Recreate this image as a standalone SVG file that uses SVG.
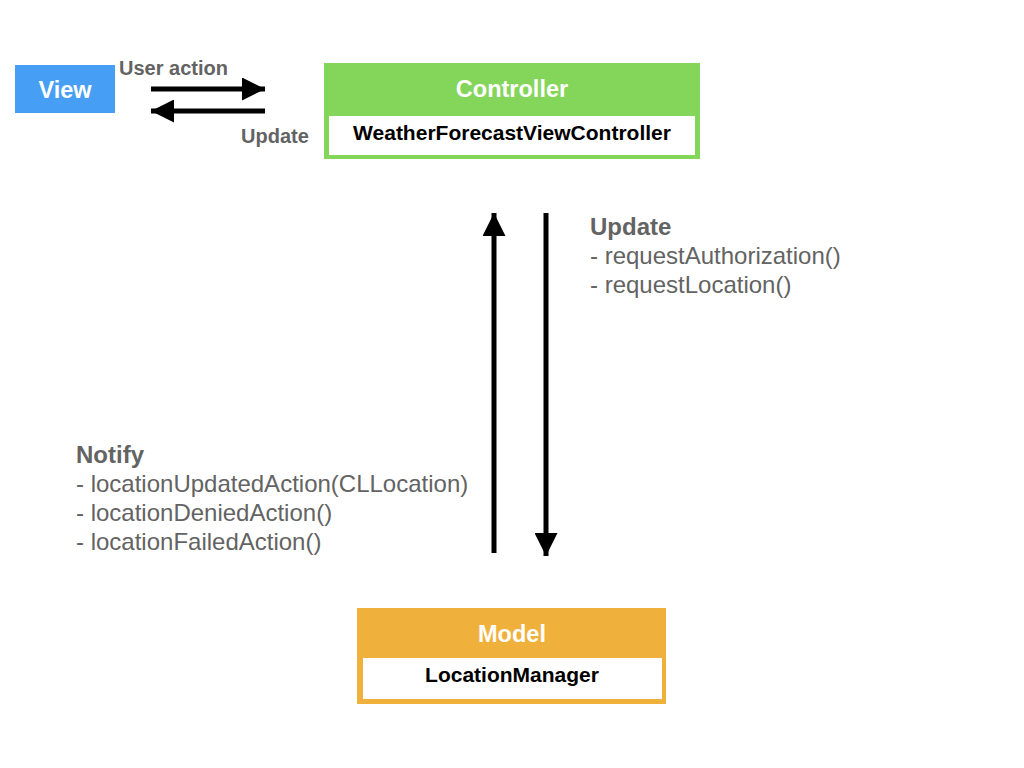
<svg xmlns="http://www.w3.org/2000/svg" width="1024" height="768" viewBox="0 0 1024 768">
<style>
text{font-family:"Liberation Sans",Arial,sans-serif}
.title{fill:#fff;font-weight:bold;font-size:23.5px;text-anchor:middle}
.sub{fill:#000;font-weight:bold;font-size:21px;text-anchor:middle}
.lbl{fill:#636363;font-weight:bold;font-size:20px}
.hd{fill:#636363;font-weight:bold;font-size:24px}
.ln{fill:#636363;font-size:24px}
.ar{stroke:#000;stroke-width:5;fill:none}
</style>
<defs>
<marker id="ah" viewBox="0 0 10 10" refX="10" refY="5" markerWidth="4.6" markerHeight="4.6" markerUnits="strokeWidth" orient="auto">
<path d="M0,0 L10,5 L0,10 Z" fill="#000"/>
</marker>
</defs>
<rect width="1024" height="768" fill="#fff"/>
<g id="view">
<rect x="15" y="65" width="100" height="48" fill="#479ef5"/>
<text class="title" x="65" y="98">View</text>
</g>
<g id="controller">
<rect x="324" y="63" width="376" height="96" fill="#84d65a"/>
<rect x="329" y="116" width="366" height="39" fill="#fff"/>
<text class="title" x="512" y="97">Controller</text>
<text class="sub" x="512" y="140">WeatherForecastViewController</text>
</g>
<g id="model">
<rect x="357" y="608" width="309" height="96" fill="#f0b13c"/>
<rect x="363" y="658" width="299" height="41" fill="#fff"/>
<text class="title" x="512" y="642">Model</text>
<text class="sub" x="512" y="682">LocationManager</text>
</g>
<g id="connectors">
<line class="ar" x1="151" y1="89" x2="265" y2="89" marker-end="url(#ah)"/>
<line class="ar" x1="265" y1="111" x2="151" y2="111" marker-end="url(#ah)"/>
<line class="ar" x1="494" y1="553" x2="494" y2="213" marker-end="url(#ah)"/>
<line class="ar" x1="546" y1="213" x2="546" y2="556" marker-end="url(#ah)"/>
</g>
<g id="labels">
<text class="lbl" x="119" y="75">User action</text>
<text class="lbl" x="241" y="143">Update</text>
<text class="hd" x="590" y="235">Update</text>
<text class="ln" x="590" y="264">- requestAuthorization()</text>
<text class="ln" x="590" y="293">- requestLocation()</text>
<text class="hd" x="76" y="463">Notify</text>
<text class="ln" x="76" y="492">- locationUpdatedAction(CLLocation)</text>
<text class="ln" x="76" y="521">- locationDeniedAction()</text>
<text class="ln" x="76" y="550">- locationFailedAction()</text>
</g>
</svg>
